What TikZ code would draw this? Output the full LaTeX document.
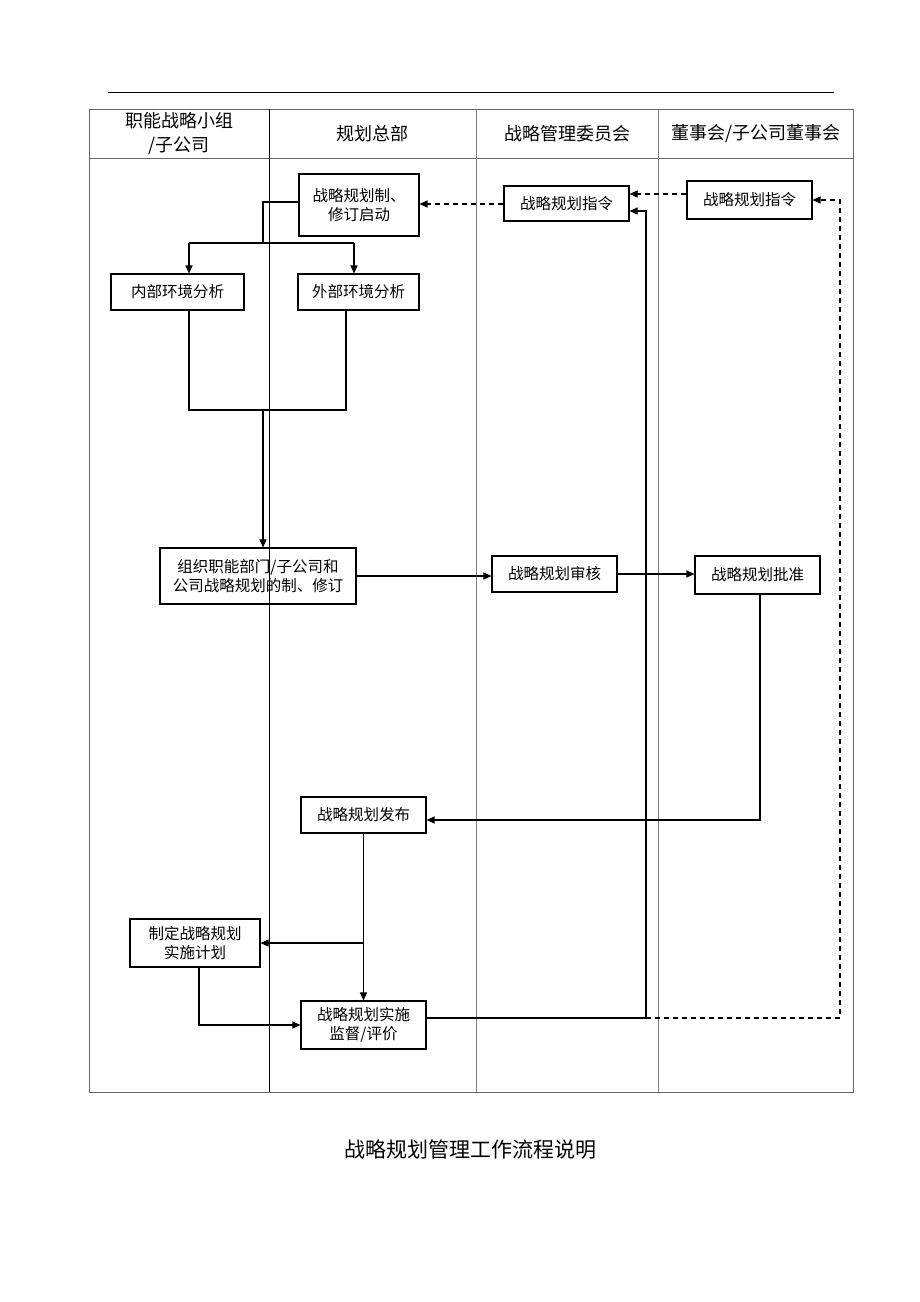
\documentclass[tikz,border=0pt]{standalone}
\usepackage{fontspec}
\usepackage{tikz}
\usetikzlibrary{arrows.meta}
\newfontfamily\cjk{Noto Sans CJK SC}

\tikzset{
  box/.style={draw, line width=1.1pt, inner sep=0pt, align=center,
    font=\cjk\fontsize{15.5}{19}\selectfont},
  head/.style={align=center, font=\cjk\fontsize{18}{24}\selectfont},
  link/.style={line width=1.1pt},
  arr/.style={link, -{Triangle[length=8pt,width=7pt]}},
  dasharr/.style={arr, dash pattern=on 5pt off 4pt}
}

\begin{document}
\begin{tikzpicture}[x=1pt,y=-1pt]
\useasboundingbox (0,0) rectangle (920,1302);

% lanes
\draw (108,92) -- (834,92);
\draw[gray!80!black] (89,109) rectangle (853,1092);
\draw[gray!80!black] (89,158) -- (853,158);
\draw (269,109) -- (269,1092);
\draw[gray] (476,109) -- (476,1092);
\draw[gray] (658,109) -- (658,1092);

\node[head] (h1) at (179,134) {职能战略小组\\/子公司};
\node[head] (h2) at (372,134) {规划总部};
\node[head] (h3) at (567,134) {战略管理委员会};
\node[head] (h4) at (756,134) {董事会/子公司董事会};

% boxes
\node[box, minimum width=120, minimum height=62] (start) at (359,205) {战略规划制、\\修订启动};
\node[box, minimum width=125, minimum height=35] (cmd1) at (566.5,203.5) {战略规划指令};
\node[box, minimum width=125, minimum height=38] (cmd2) at (749.5,200) {战略规划指令};
\node[box, minimum width=133, minimum height=36] (inner) at (177.5,292) {内部环境分析};
\node[box, minimum width=121, minimum height=36] (outer) at (358.5,292) {外部环境分析};
\node[box, minimum width=196, minimum height=56] (draft) at (258,576) {组织职能部门/子公司和\\公司战略规划的制、修订};
\node[box, minimum width=125, minimum height=36] (review) at (554.5,574) {战略规划审核};
\node[box, minimum width=125, minimum height=38] (approve) at (757.5,575) {战略规划批准};
\node[box, minimum width=125, minimum height=36] (publish) at (363.5,815) {战略规划发布};
\node[box, minimum width=130, minimum height=48] (plan) at (195,943) {制定战略规划\\实施计划};
\node[box, minimum width=125, minimum height=48] (monitor) at (363.5,1025) {战略规划实施\\监督/评价};

\node[font=\cjk\fontsize{21}{26}\selectfont] (title) at (470,1150) {战略规划管理工作流程说明};

% split to analyses
\coordinate (s0) at (263,243);
\coordinate (sD) at (189,243);
\coordinate (sE) at (354,243);
\draw[link] ([yshift=3]start.west) -| (s0);
\draw[link] (sD) -- (sE);
\draw[arr] (sD) -- (sD |- inner.north);
\draw[arr] (sE) -- (sE |- outer.north);

% join to draft
\coordinate (jD) at (189,410);
\coordinate (jE) at (346,410);
\coordinate (j0) at (263,410);
\draw[link] (jD |- inner.south) -- (jD) -- (jE) -- (jE |- outer.south);
\draw[arr] (j0) -- (j0 |- draft.north);

\draw[arr] (draft.east) -- (draft.east -| review.west);
\draw[arr] (review.east) -- (review.east -| approve.west);
\draw[arr] ([xshift=2.5]approve.south) |- ([yshift=-5]publish.east);
\draw[arr] (publish.south) -- (monitor.north);
\draw[arr] (publish.south |- plan.east) -- (plan.east);
\draw[arr] ([xshift=4]plan.south) |- (monitor.west);

% feedback
\coordinate (up) at (646,1018);
\draw[arr] ([yshift=7]monitor.east) -- (up) |- ([yshift=-7.5]cmd1.east);
\draw[dasharr] (up) -- ++(194,0) |- (cmd2.east);
\draw[dasharr] ([yshift=6]cmd2.west) -- ([yshift=6]cmd2.west -| cmd1.east);
\draw[dasharr] ([yshift=-0.5]cmd1.west) -- ([yshift=-0.5]cmd1.west -| start.east);
\end{tikzpicture}
\end{document}
